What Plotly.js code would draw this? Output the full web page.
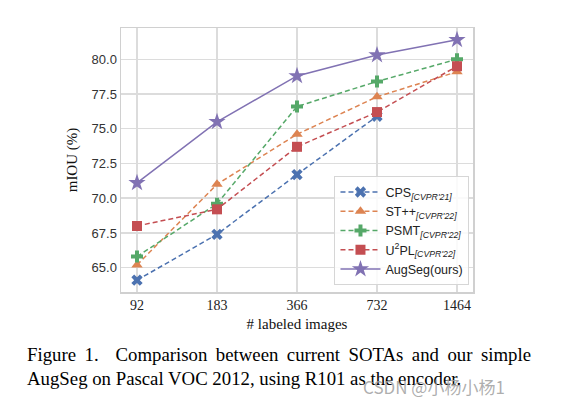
<!DOCTYPE html>
<html>
<head>
<meta charset="utf-8">
<script src="https://cdn.plot.ly/plotly-3.0.1.min.js"></script>
<style>
html,body{margin:0;padding:0;background:#fff;}
#wrap{position:relative;width:568px;height:409px;overflow:hidden;}
#chart{position:absolute;left:0;top:0;width:568px;height:409px;}
.cap{position:absolute;left:27px;width:504px;font-family:"Liberation Serif","Times New Roman",serif;font-size:18.8px;line-height:22px;color:#000;white-space:nowrap;}
#cap1{top:344px;text-align:justify;text-align-last:justify;white-space:normal;}
#cap2{top:368px;}
#wm{position:absolute;left:363px;top:374px;font-family:"Noto Sans CJK SC","DejaVu Sans",sans-serif;font-size:17px;color:rgba(160,160,160,0.85);}
</style>
</head>
<body>
<div id="wrap">
<div id="chart"></div>
<div class="cap" id="cap1">Figure 1.&nbsp; Comparison between current SOTAs and our simple</div>
<div class="cap" id="cap2">AugSeg on Pascal VOC 2012, using R101 as the encoder.</div>
<div id="wm">CSDN @小杨小杨1</div>
</div>
<script>
const categories = ["92", "183", "366", "732", "1464"];
const cps    = [64.1, 67.4, 71.7, 75.9, null];
const stpp   = [65.2, 71.0, 74.6, 77.3, 79.1];
const psmt   = [65.8, 69.6, 76.6, 78.4, 80.0];
const u2pl   = [68.0, 69.2, 73.7, 76.2, 79.5];
const augseg = [71.1, 75.5, 78.8, 80.3, 81.4];
const yTicks = [65.0, 67.5, 70.0, 72.5, 75.0, 77.5, 80.0];
const seriesNames = [
  "CPS<sub><i>[CVPR'21]</i></sub>",
  "ST++<sub><i>[CVPR'22]</i></sub>",
  "PSMT<sub><i>[CVPR'22]</i></sub>",
  "U<sup>2</sup>PL<sub><i>[CVPR'22]</i></sub>",
  "AugSeg(ours)"
];

const xIdx = categories.map((c, i) => i);
function tr(y, name, color, sym, size, dash) {
  return {
    x: xIdx, y: y, name: name, type: 'scatter', mode: 'lines+markers',
    connectgaps: false,
    line: {color: color, width: 1.5, dash: dash},
    marker: {color: color, symbol: sym, size: size, line: {width: 0}}
  };
}
const dashed = '5px,3px';
const data = [
  tr(cps, seriesNames[0], '#4C72B0', 'x', 10, dashed),
  tr(stpp, seriesNames[1], '#DD8452', 'triangle-up', 10, dashed),
  tr(psmt, seriesNames[2], '#55A868', 'cross', 10, dashed),
  tr(u2pl, seriesNames[3], '#C44E52', 'square', 10, dashed),
  tr(augseg, seriesNames[4], '#8172B3', 'star', 13, 'solid')
];

const layout = {
  width: 568, height: 409,
  margin: {l: 121, r: 95, t: 28, b: 117},
  paper_bgcolor: 'rgba(0,0,0,0)',
  plot_bgcolor: '#ffffff',
  showlegend: true,
  legend: {
    x: 0.99, y: 0.025, xanchor: 'right', yanchor: 'bottom',
    bgcolor: 'rgba(255,255,255,0.85)', bordercolor: '#d6d6d6', borderwidth: 1,
    font: {family: 'Liberation Sans, Arial, sans-serif', size: 12.5, color: '#222'},
    tracegroupgap: 0, itemwidth: 40
  },
  xaxis: {
    range: [-0.2, 4.2],
    tickmode: 'array', tickvals: xIdx, ticktext: categories,
    showgrid: true, gridcolor: '#dcdcdc', gridwidth: 1.5,
    showline: true, mirror: true, linecolor: '#d0d0d0', linewidth: 1.5,
    zeroline: false, ticks: '', ticklen: 0,
    tickfont: {family: 'Liberation Serif, Times New Roman, serif', size: 14, color: '#222'},
    title: {text: '# labeled images', standoff: 6,
      font: {family: 'Liberation Serif, Times New Roman, serif', size: 15, color: '#111'}}
  },
  yaxis: {
    range: [63.25, 82.25],
    tickmode: 'array', tickvals: yTicks, ticktext: yTicks.map(v => v.toFixed(1)),
    showgrid: true, gridcolor: '#dcdcdc', gridwidth: 1.5,
    showline: true, mirror: true, linecolor: '#d0d0d0', linewidth: 1.5,
    zeroline: false, ticks: '', ticklen: 0,
    tickfont: {family: 'Liberation Sans, Arial, sans-serif', size: 13, color: '#333'},
    title: {text: 'mIOU (%)', standoff: 10,
      font: {family: 'Liberation Serif, Times New Roman, serif', size: 15, color: '#111'}}
  }
};
Plotly.newPlot('chart', data, layout, {displayModeBar: false, staticPlot: true});
</script>
</body>
</html>
